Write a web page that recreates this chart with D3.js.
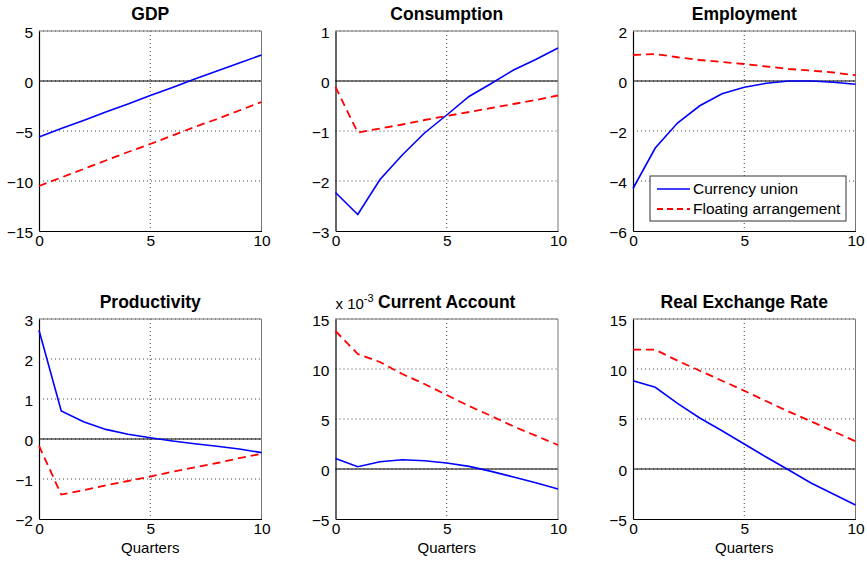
<!DOCTYPE html>
<html>
<head>
<meta charset="utf-8">
<script src="https://cdn.jsdelivr.net/npm/d3@7"></script>
<style>
  html, body { margin: 0; padding: 0; background: #fff; }
  svg { display: block; font-family: Arial, "Liberation Sans", sans-serif; }
</style>
</head>
<body>
<svg id="chart" width="867" height="563"></svg>
<script>
// ---------- data ----------
const quarters = [0, 1, 2, 3, 4, 5, 6, 7, 8, 9, 10];
const xTicks = [0, 5, 10];

const titles = ["GDP", "Consumption", "Employment", "Productivity", "Current Account", "Real Exchange Rate"];
const seriesNames = ["Currency union", "Floating arrangement"];

const gdpUnion = [-5.6, -4.75, -3.95, -3.1, -2.3, -1.45, -0.65, 0.2, 1.0, 1.8, 2.6];
const gdpFloat = [-10.5, -9.65, -8.8, -7.95, -7.1, -6.3, -5.45, -4.6, -3.8, -2.95, -2.1];

const consUnion = [-2.23, -2.67, -1.97, -1.48, -1.04, -0.68, -0.31, -0.05, 0.22, 0.43, 0.66];
const consFloat = [-0.12, -1.03, -0.95, -0.87, -0.78, -0.70, -0.62, -0.54, -0.46, -0.38, -0.29];

const empUnion = [-4.3, -2.68, -1.68, -0.99, -0.51, -0.25, -0.09, 0.0, 0.0, -0.05, -0.13];
const empFloat = [1.04, 1.08, 0.95, 0.84, 0.76, 0.68, 0.58, 0.48, 0.42, 0.34, 0.23];

const prodUnion = [2.72, 0.70, 0.43, 0.24, 0.12, 0.03, -0.05, -0.12, -0.18, -0.25, -0.34];
const prodFloat = [-0.17, -1.39, -1.28, -1.16, -1.05, -0.94, -0.82, -0.71, -0.60, -0.48, -0.37];

// current account in units of 1e-3
const caUnion = [1.06, 0.23, 0.73, 0.93, 0.83, 0.6, 0.26, -0.24, -0.8, -1.37, -2.0];
const caFloat = [13.8, 11.5, 10.7, 9.5, 8.5, 7.4, 6.3, 5.3, 4.26, 3.33, 2.4];

const rerUnion = [8.83, 8.17, 6.57, 5.1, 3.83, 2.5, 1.17, -0.1, -1.4, -2.5, -3.6];
const rerFloat = [11.93, 11.93, 10.83, 9.83, 8.83, 7.83, 6.77, 5.73, 4.77, 3.77, 2.77];

const yTicksGDP = [-15, -10, -5, 0, 5];
const yTicksCons = [-3, -2, -1, 0, 1];
const yTicksEmp = [-6, -4, -2, 0, 2];
const yTicksProd = [-2, -1, 0, 1, 2, 3];
const yTicksCA = [-5, 0, 5, 10, 15];
const yTicksRER = [-5, 0, 5, 10, 15];

// ---------- layout ----------
const panels = [
  { title: titles[0], union: gdpUnion, float: gdpFloat, ticks: yTicksGDP, col: 0, row: 0 },
  { title: titles[1], union: consUnion, float: consFloat, ticks: yTicksCons, col: 1, row: 0 },
  { title: titles[2], union: empUnion, float: empFloat, ticks: yTicksEmp, col: 2, row: 0, legend: true },
  { title: titles[3], union: prodUnion, float: prodFloat, ticks: yTicksProd, col: 0, row: 1, xlabel: true },
  { title: titles[4], union: caUnion, float: caFloat, ticks: yTicksCA, col: 1, row: 1, xlabel: true, exponent: true },
  { title: titles[5], union: rerUnion, float: rerFloat, ticks: yTicksRER, col: 2, row: 1, xlabel: true }
];

const colLeft = [39, 335.5, 633];
const rowTop = [31, 319];
const pw = 222.5, ph = 200;

const svg = d3.select("#chart");

panels.forEach(p => {
  const g = svg.append("g").attr("transform", `translate(${colLeft[p.col]},${rowTop[p.row]})`);
  const x = d3.scaleLinear().domain([0, 10]).range([0, pw]);
  const y = d3.scaleLinear().domain(d3.extent(p.ticks)).range([ph, 0]);

  // grid (dotted)
  g.append("g").selectAll("line.gx").data(xTicks.slice(1, -1)).join("line")
    .attr("x1", d => x(d)).attr("x2", d => x(d)).attr("y1", 0).attr("y2", ph)
    .attr("stroke", "#444").attr("stroke-width", 1).attr("stroke-dasharray", "1,3");
  g.append("g").selectAll("line.gy").data(p.ticks.slice(1)).join("line")
    .attr("x1", 0).attr("x2", pw).attr("y1", d => y(d)).attr("y2", d => y(d))
    .attr("stroke", "#444").attr("stroke-width", 1).attr("stroke-dasharray", "1,3");

  // zero line
  g.append("line").attr("x1", 0).attr("x2", pw).attr("y1", y(0)).attr("y2", y(0))
    .attr("stroke", "#000").attr("stroke-width", 1);

  // box
  g.append("line").attr("x1", pw).attr("x2", pw).attr("y1", 0).attr("y2", ph).attr("stroke", "#777");
  g.append("line").attr("x1", 0).attr("x2", pw).attr("y1", 0).attr("y2", 0).attr("stroke", "#777");

  // axes
  const xAxis = d3.axisBottom(x).tickValues(xTicks).tickSize(0).tickPadding(4).tickFormat(d3.format("d"));
  const yAxis = d3.axisLeft(y).tickValues(p.ticks).tickSize(0).tickPadding(6).tickFormat(d3.format("d"));
  const gx = g.append("g").attr("transform", `translate(0,${ph})`).call(xAxis);
  const gy = g.append("g").call(yAxis);
  [gx, gy].forEach(a => {
    a.select(".domain").attr("stroke", "#000").attr("stroke-width", 1.2);
    a.selectAll("text").attr("font-size", 15.5).attr("fill", "#000")
      .attr("font-family", "Arial, 'Liberation Sans', sans-serif");
  });
  gy.selectAll(".tick text").attr("dy", "0.4em");
  gx.selectAll(".tick text").attr("dy", "0.72em");

  // lines
  const line = d3.line().x((d, i) => x(quarters[i])).y(d => y(d));
  g.append("path").datum(p.float).attr("d", line).attr("fill", "none")
    .attr("stroke", "#ff0000").attr("stroke-width", 1.8).attr("stroke-dasharray", "8,5");
  g.append("path").datum(p.union).attr("d", line).attr("fill", "none")
    .attr("stroke", "#0000ff").attr("stroke-width", 1.6);

  // title
  g.append("text").attr("x", pw / 2).attr("y", -11).attr("text-anchor", "middle")
    .attr("font-size", 17.5).attr("font-weight", "bold").attr("fill", "#000").text(p.title);

  if (p.exponent) {
    const t = g.append("text").attr("x", 0).attr("y", -10).attr("font-size", 15).attr("fill", "#000");
    t.append("tspan").text("x 10");
    t.append("tspan").attr("font-size", 11).attr("dy", -7).text("-3");
  }

  if (p.xlabel) {
    g.append("text").attr("x", pw / 2).attr("y", ph + 34).attr("text-anchor", "middle")
      .attr("font-size", 15).attr("fill", "#000").text("Quarters");
  }

  if (p.legend) {
    const lg = g.append("g").attr("transform", `translate(${650 - colLeft[p.col]},${176 - rowTop[p.row]})`);
    lg.append("rect").attr("width", 196).attr("height", 45).attr("fill", "#fff")
      .attr("stroke", "#333").attr("stroke-width", 1);
    const items = [
      { name: seriesNames[0], color: "#0000ff", dash: null, w: 1.6 },
      { name: seriesNames[1], color: "#ff0000", dash: "6,4", w: 1.8 }
    ];
    items.forEach((it, i) => {
      const yy = 13 + i * 20;
      lg.append("line").attr("x1", 7).attr("x2", 40).attr("y1", yy).attr("y2", yy)
        .attr("stroke", it.color).attr("stroke-width", it.w).attr("stroke-dasharray", it.dash);
      lg.append("text").attr("x", 43).attr("y", yy).attr("dy", "0.35em")
        .attr("font-size", 15.5).attr("fill", "#000").text(it.name);
    });
  }
});
</script>
</body>
</html>
